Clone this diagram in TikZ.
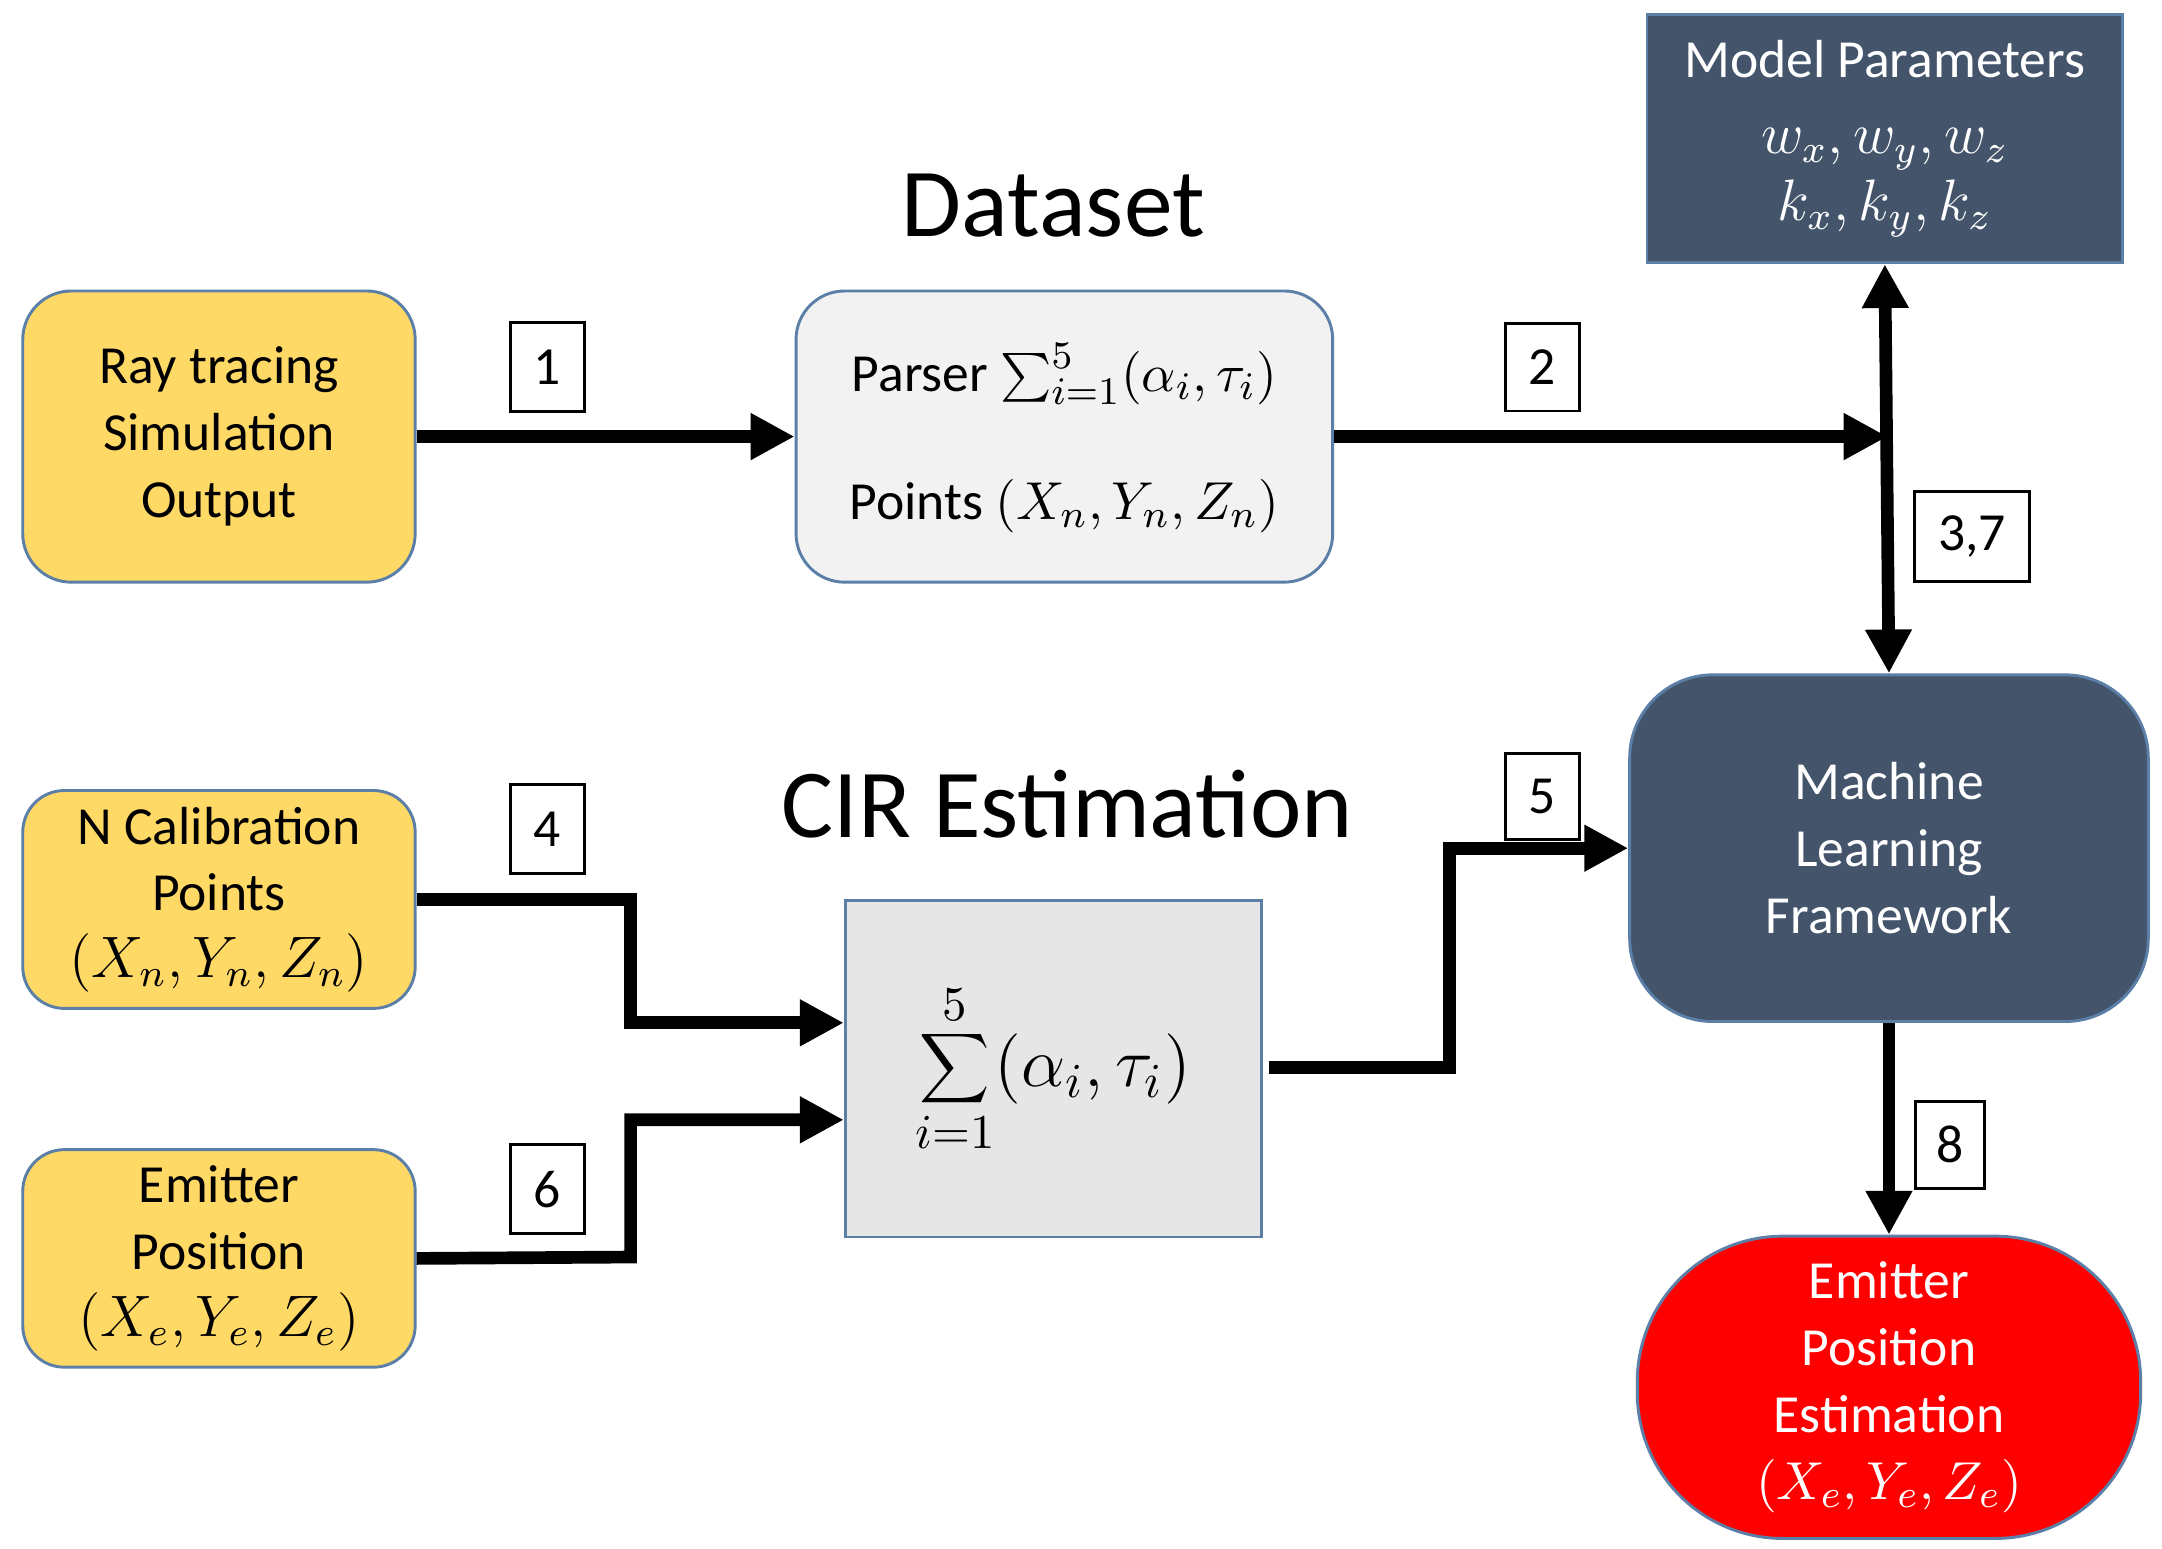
\documentclass[tikz,border=0pt]{standalone}
\usepackage{fontspec}
\setmainfont{Carlito}
\usetikzlibrary{arrows.meta}
\definecolor{yel}{HTML}{FFD966}
\definecolor{bord}{HTML}{5B7FA6}
\definecolor{slate}{HTML}{44546A}
\definecolor{lgray}{HTML}{F2F2F2}
\definecolor{mgray}{HTML}{E7E6E6}
\begin{document}
\begin{tikzpicture}[x=0.01cm,y=-0.01cm,
 txt/.style={font=\fontsize{11}{13.7}\selectfont,align=center},
 box/.style={draw=bord,line width=0.6pt,txt},
 lab/.style={draw=black,line width=0.6pt,font=\fontsize{11}{13.7}\selectfont,inner sep=0pt},
 arr/.style={line width=2.6pt,-{Triangle[length=9pt,width=9pt]}}]
\useasboundingbox (0,0) rectangle (1560,1117);
\node[box,fill=yel,rounded corners=0.35cm,minimum width=2.83cm,minimum height=2.1cm] (ray) at (158,315) {Ray tracing\\Simulation\\Output};
\node[box,fill=lgray,rounded corners=0.35cm,minimum width=3.87cm,minimum height=2.1cm] (par) at (768,315) {};
\node[txt] at (768,270) {Parser $\sum_{i=1}^{5}(\alpha_i,\tau_i)$};
\node[txt] at (768,365) {Points $(X_n,Y_n,Z_n)$};
\node[box,fill=slate,text=white,minimum width=3.43cm,minimum height=1.79cm] (mp) at (1360,100) {Model Parameters\\[2pt] \large$w_x,w_y,w_z$\\ \large$k_x,k_y,k_z$};
\node[box,fill=slate,text=white,rounded corners=0.6cm,minimum width=3.74cm,minimum height=2.5cm] (ml) at (1363,612) {Machine\\Learning\\Framework};
\node[box,fill=red,text=white,rounded corners=1.05cm,minimum width=3.63cm,minimum height=2.18cm] (est) at (1363,1001) {Emitter\\Position\\Estimation\\$(X_e,Y_e,Z_e)$};
\node[box,fill=yel,rounded corners=0.3cm,minimum width=2.83cm,minimum height=1.46cm] (cal) at (158,649) {N Calibration\\Points\\\large$(X_n,Y_n,Z_n)$};
\node[box,fill=yel,rounded corners=0.3cm,minimum width=2.83cm,minimum height=1.46cm] (emi) at (158,908) {Emitter\\Position\\\large$(X_e,Y_e,Z_e)$};
\node[box,fill=mgray,rounded corners=0pt,minimum width=3cm,minimum height=2.43cm,font=\fontsize{14}{16}\selectfont] (sum) at (760,771) {$\displaystyle\sum_{i=1}^{5}(\alpha_i,\tau_i)$};
\node[font=\fontsize{20}{24}\selectfont] (t1) at (760,148) {Dataset};
\node[font=\fontsize{20}{24}\selectfont] (t2) at (770,580) {CIR Estimation};
\node[lab,minimum width=0.53cm,minimum height=0.64cm] (l1) at (395,265) {1};
\node[lab,minimum width=0.53cm,minimum height=0.63cm] (l2) at (1113,265) {2};
\node[lab,minimum width=0.83cm,minimum height=0.65cm] (l3) at (1423,387) {3,7};
\node[lab,minimum width=0.53cm,minimum height=0.64cm] (l4) at (395,598) {4};
\node[lab,minimum width=0.53cm,minimum height=0.62cm] (l5) at (1113,575) {5};
\node[lab,minimum width=0.53cm,minimum height=0.64cm] (l6) at (395,858) {6};
\node[lab,minimum width=0.5cm,minimum height=0.63cm] (l8) at (1407,826) {8};
\coordinate (j) at (1362,315);
\draw[arr] (ray.east) -- (par.west);
\draw[arr] (par.east) -- (j);
\draw[arr,{Triangle[length=9pt,width=9pt]}-{Triangle[length=9pt,width=9pt]}] (mp.south) -- (ml.north);
\draw[arr] (cal.east) -- (455,649) -- (455,738) -- (sum.west|-0,738);
\draw[arr] (emi.east) -- (455,907) -- (455,808) -- (sum.west|-0,808);
\draw[arr] (916,770) -- (1046,770) -- (1046,612) -- (ml.west);
\draw[arr] (ml.south) -- (est.north);
\end{tikzpicture}
\end{document}
